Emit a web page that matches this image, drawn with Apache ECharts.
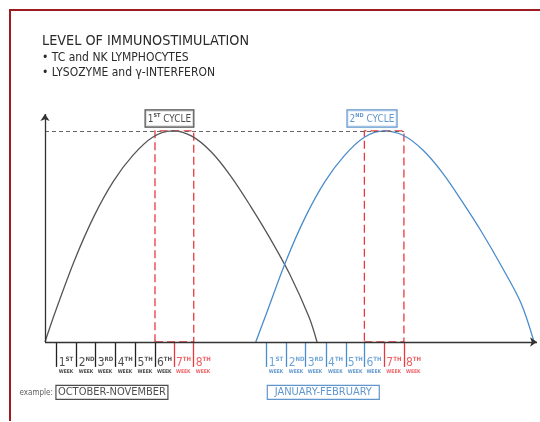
<!DOCTYPE html>
<html>
<head>
<meta charset="utf-8">
<script src="https://cdn.jsdelivr.net/npm/echarts@6/dist/echarts.min.js"></script>
<style>
  html, body { margin: 0; padding: 0; background: #fff; }
  #chart { width: 540px; height: 422px; }
</style>
</head>
<body>
<div id="chart"></div>
<script>
// x in weeks from the origin, y in % of peak stimulation
const xMax = 25.14;
const yMin = -36;
const yMax = 108;
const peakLevel = 100;

const weekNumbers = ['1', '2', '3', '4', '5', '6', '7', '8'];
const weekSuffix = ['ST', 'ND', 'RD', 'TH', 'TH', 'TH', 'TH', 'TH'];
const cycle1Ticks = [0.6, 1.62, 2.59, 3.61, 4.63, 5.62, 6.59, 7.6];
const cycle2Ticks = [11.33, 12.35, 13.32, 14.36, 15.37, 16.32, 17.34, 18.34];
const redWeekIdx = [6, 7];

const cycle1Curve = [[0, 0], [0.5, 13.6], [1.5, 38.5], [2.5, 59.5], [3.5, 76.2], [4.5, 88.5], [5.5, 97], [6.5, 100],
    [7.5, 97.5], [8.5, 90], [9.5, 78.5], [10.5, 64.4], [11.5, 49.1], [12.5, 32.2], [13.5, 11.6], [13.9, 0]];
const cycle2Curve = [[10.77, 0], [11.32, 13.6], [12.32, 38.5], [13.32, 59.5], [14.32, 76.2], [15.32, 88.5], [16.32, 97], [17.32, 100],
    [18.32, 97.8], [19.32, 90.8], [20.32, 80], [21.32, 66.5], [22.32, 52], [23.32, 36], [24.32, 18.5], [24.99, 0]];

const cycleLabels = [['1', 'ST'], ['2', 'ND']];
const cycleLabelX = [6.36, 16.71];
const monthLabels = ['OCTOBER-NOVEMBER', 'JANUARY-FEBRUARY'];
const monthLabelX = [3.42, 14.22];

const FONT = "'Liberation Sans Narrow', 'DejaVu Sans Condensed', 'Open Sans', sans-serif";
const GREY = '#555555';
const BLUE = '#4a8ccc';
const BLUE_TXT = '#3a7cc0';
const RED = '#e8383d';
const cycleTxt = ['#222', BLUE_TXT];

const chart = echarts.init(document.getElementById('chart'));

const tickLines = [];
const labelData = [];
[cycle1Ticks, cycle2Ticks].forEach((ticks, c) => {
    ticks.forEach((x, i) => {
        const col = redWeekIdx.includes(i) ? RED : (c === 0 ? '#222' : BLUE);
        const wcol = redWeekIdx.includes(i) ? RED : (c === 0 ? '#111' : BLUE_TXT);
        tickLines.push([{ coord: [x, 0], lineStyle: { color: col } }, { coord: [x, -11.8] }]);
        labelData.push({
            value: [x, -11.4],
            label: {
                show: true, position: 'right', distance: 2,
                formatter: `{n|${weekNumbers[i]}}{s|${weekSuffix[i]}}\n{w|WEEK}`,
                color: col,
                rich: {
                    n: { fontSize: 12, lineHeight: 12, color: col, fontFamily: FONT },
                    s: { fontSize: 6, lineHeight: 12, verticalAlign: 'top', color: col, fontFamily: FONT, fontWeight: 'bold' },
                    w: { fontSize: 5, lineHeight: 7, color: wcol, fontFamily: FONT, fontWeight: 'bold' }
                }
            }
        });
    });
});

cycleLabels.forEach((lab, c) => {
    labelData.push({
        value: [cycleLabelX[c], 105.9],
        label: {
            show: true, position: 'inside',
            formatter: `{t|${lab[0]}}{s|${lab[1]}}{t| CYCLE}`,
            borderColor: cycleTxt[c], borderWidth: 1.2, padding: [2, 2, 1, 2],
            backgroundColor: '#fff',
            rich: {
                t: { fontSize: 10, lineHeight: 13, color: cycleTxt[c], fontFamily: FONT, fontWeight: 500 },
                s: { fontSize: 5.5, lineHeight: 13, verticalAlign: 'top', color: cycleTxt[c], fontFamily: FONT, fontWeight: 'bold' }
            }
        }
    });
});

monthLabels.forEach((m, c) => {
    labelData.push({
        value: [monthLabelX[c], -23.9],
        label: {
            show: true, position: 'inside', formatter: m,
            width: 106, align: 'center',
            fontSize: 11, fontFamily: FONT, color: cycleTxt[c],
            borderColor: cycleTxt[c], borderWidth: 1.2, padding: [2, 3, 1, 3]
        }
    });
});
labelData.push({
    value: [0.56, -23.9],
    label: { show: true, position: 'left', distance: 3, formatter: 'example:', fontSize: 8, fontFamily: FONT, color: '#333' }
});

const redArea = (ticks) => [{ coord: [ticks[5], 0] }, { coord: [ticks[7], peakLevel] }];

chart.setOption({
    animation: false,
    backgroundColor: '#ffffff',
    title: [
        { text: 'LEVEL OF IMMUNOSTIMULATION', left: 37, top: 29.5, textStyle: { fontSize: 14.3, fontWeight: 'normal', color: '#2a2a2a', fontFamily: FONT } },
        {
            text: '• TC and NK LYMPHOCYTES\n• LYSOZYME and γ-INTERFERON', left: 37, top: 45,
            textStyle: { fontSize: 12, lineHeight: 15, fontWeight: 'normal', color: '#2a2a2a', fontFamily: FONT }
        }
    ],
    grid: { left: 45, right: 3, top: 114, bottom: 4 },
    xAxis: { type: 'value', min: 0, max: xMax, show: false },
    yAxis: { type: 'value', min: yMin, max: yMax, show: false },
    graphic: [
        { type: 'line', shape: { x1: 10, y1: 9, x2: 10, y2: 421 }, style: { stroke: '#9c1c22', lineWidth: 2 } },
        { type: 'line', shape: { x1: 9, y1: 10, x2: 540, y2: 10 }, style: { stroke: '#9c1c22', lineWidth: 2 } }
    ],
    series: [
        {
            type: 'line', name: '1st cycle', data: cycle1Curve, smooth: 0.33, showSymbol: false,
            lineStyle: { color: GREY, width: 1.3 }, z: 3
        },
        {
            type: 'line', name: '2nd cycle', data: cycle2Curve, smooth: 0.33, showSymbol: false,
            lineStyle: { color: BLUE, width: 1.3 }, z: 3
        },
        {
            type: 'line', name: 'guides', data: [], silent: true, z: 4,
            markArea: {
                silent: true,
                itemStyle: { color: 'rgba(0,0,0,0)', borderColor: RED, borderWidth: 1.3, borderType: [8, 4] },
                data: [redArea(cycle1Ticks), redArea(cycle2Ticks)]
            },
            markLine: {
                silent: true, symbol: 'none', label: { show: false },
                lineStyle: { type: 'solid', width: 1.3 },
                data: [
                    [{ coord: [0, peakLevel], lineStyle: { color: '#666', type: [4, 3], width: 1.2 } }, { coord: [cycle2Ticks[7], peakLevel] }],
                    ...tickLines
                ]
            }
        },
        {
            type: 'line', name: 'axes', data: [], silent: true, z: 5,
            markLine: {
                silent: true, symbol: ['none', 'arrow'], symbolSize: 7, label: { show: false },
                lineStyle: { type: 'solid', color: '#333', width: 1.3 },
                data: [
                    [{ coord: [0, 0] }, { coord: [xMax, 0] }],
                    [{ coord: [0, 0] }, { coord: [0, yMax] }]
                ]
            }
        },
        {
            type: 'scatter', name: 'labels', data: labelData, symbolSize: 0, silent: true, z: 6
        }
    ]
});
</script>
</body>
</html>
